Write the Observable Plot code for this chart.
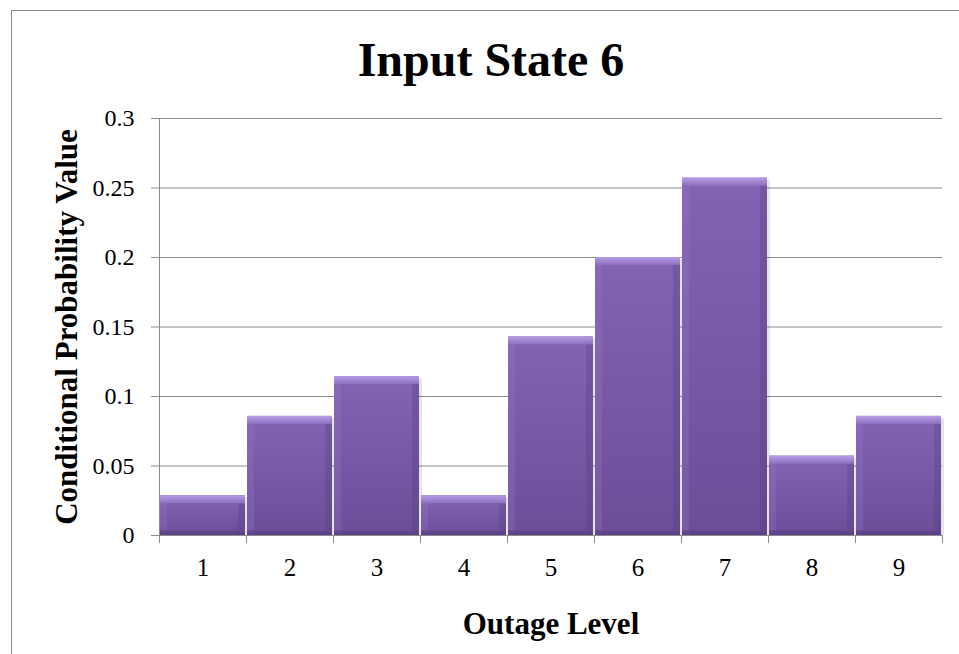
<!DOCTYPE html>
<html>
<head>
<meta charset="utf-8">
<script src="https://cdn.jsdelivr.net/npm/d3@7"></script>
<script src="https://cdn.jsdelivr.net/npm/@observablehq/plot@0.6"></script>
<style>
  html, body { margin: 0; padding: 0; background: #fff; overflow: hidden; }
  #wrap { position: relative; width: 959px; height: 654px; }
  #border { position: absolute; left: 11px; top: 10px; width: 1000px; height: 700px;
            border: 1.5px solid #8a8a8a; box-sizing: border-box; pointer-events: none; }
  #chart { position: absolute; left: 0; top: 0; }
</style>
</head>
<body>
<svg width="0" height="0" style="position:absolute">
  <defs>
    <linearGradient id="barV" x1="0" y1="0" x2="0" y2="1">
      <stop offset="0" stop-color="#8364b3"/>
      <stop offset="1" stop-color="#6b4d98"/>
    </linearGradient>
    <linearGradient id="barTop" x1="0" y1="0" x2="0" y2="1">
      <stop offset="0" stop-color="#b69de3"/>
      <stop offset="1" stop-color="#8d70c0"/>
    </linearGradient>
    <linearGradient id="barBottom" x1="0" y1="0" x2="0" y2="1">
      <stop offset="0" stop-color="#654892"/>
      <stop offset="1" stop-color="#563c7f"/>
    </linearGradient>
  </defs>
</svg>
<div id="wrap">
  <div id="chart"></div>
  <div id="border"></div>
</div>
<script>
const title = "Input State 6";
const xLabel = "Outage Level";
const yLabel = "Conditional Probability Value";
const categories = [1, 2, 3, 4, 5, 6, 7, 8, 9];
const values = [0.0286, 0.0857, 0.1143, 0.0286, 0.1429, 0.2, 0.2571, 0.0571, 0.0857];
const yTicks = [0, 0.05, 0.1, 0.15, 0.2, 0.25, 0.3];

const data = categories.map((c, i) => ({c, v: values[i]}));
const bounds = [categories[0] - 0.5, ...categories.map(c => c + 0.5)];
const font = "'Liberation Serif', 'Times New Roman', serif";
const gray = "#8c8c8c";
const x1 = d => d.c - 0.5, x2 = d => d.c + 0.5;

const chart = Plot.plot({
  width: 959,
  height: 654,
  marginLeft: 159,
  marginRight: 17,
  marginTop: 118,
  marginBottom: 119,
  style: {fontFamily: font, fontSize: "24px", color: "black", background: "transparent"},
  x: {domain: [bounds[0], bounds[bounds.length - 1]], axis: null},
  y: {domain: [0, 0.3], axis: null},
  marks: [
    Plot.gridY(yTicks, {stroke: gray, strokeOpacity: 1, strokeWidth: 1}),
    Plot.ruleX([bounds[0]], {stroke: gray, strokeWidth: 1}),
    Plot.ruleY([0], {stroke: gray, strokeWidth: 1}),
    Plot.axisY(yTicks, {anchor: "left", tickSize: 8, tickPadding: 17, stroke: gray, fill: "black",
      fontSize: 24, tickFormat: d => String(+d.toFixed(2)), label: null}),
    Plot.axisX(bounds, {anchor: "bottom", tickSize: 8, stroke: gray, tickFormat: () => "", label: null}),
    Plot.axisX(categories, {anchor: "bottom", tickSize: 0, tickPadding: 23, fill: "black",
      fontSize: 25, tickFormat: d => String(d), label: null}),
    // soft shadow
    Plot.rectY(data, {x1, x2, y1: 0, y2: "v", insetLeft: 3, insetRight: -2, insetTop: 2,
      fill: "#000", fillOpacity: 0.1}),
    // bar body
    Plot.rectY(data, {x1, x2, y1: 0, y2: "v", insetLeft: 1, insetRight: 1, fill: "url(#barV)"}),
    // left bevel
    Plot.rectY(data, {x1, x2, y1: 0, y2: "v", insetLeft: 1, insetRight: 79, fill: "#9478c6", fillOpacity: 0.3}),
    // right bevel
    Plot.rectY(data, {x1, x2, y1: 0, y2: "v", insetLeft: 79, insetRight: 1, fill: "#533a7a", fillOpacity: 0.3}),
    // bottom bevel
    Plot.rectY(data, {x1, x2, y1: 0, y2: 0, insetLeft: 1, insetRight: 1, insetTop: -5, fill: "url(#barBottom)", fillOpacity: 0.8}),
    // top bevel
    Plot.rectY(data, {x1, x2, y1: "v", y2: "v", insetLeft: 1, insetRight: 1, insetBottom: -8, fill: "url(#barTop)"}),
    // title & labels
    Plot.text([title], {frameAnchor: "top", lineAnchor: "bottom", dx: -60, dy: -43,
      fontSize: 48, fontWeight: "bold", fill: "black"}),
    Plot.text([xLabel], {frameAnchor: "bottom", lineAnchor: "bottom", dx: 0, dy: 98,
      fontSize: 31, fontWeight: "bold", fill: "black"}),
    Plot.text([yLabel], {frameAnchor: "left", textAnchor: "middle", lineAnchor: "middle", rotate: -90, dx: -92, dy: 0,
      fontSize: 31, fontWeight: "bold", fill: "black"})
  ]
});
document.getElementById("chart").appendChild(chart);
</script>
</body>
</html>
